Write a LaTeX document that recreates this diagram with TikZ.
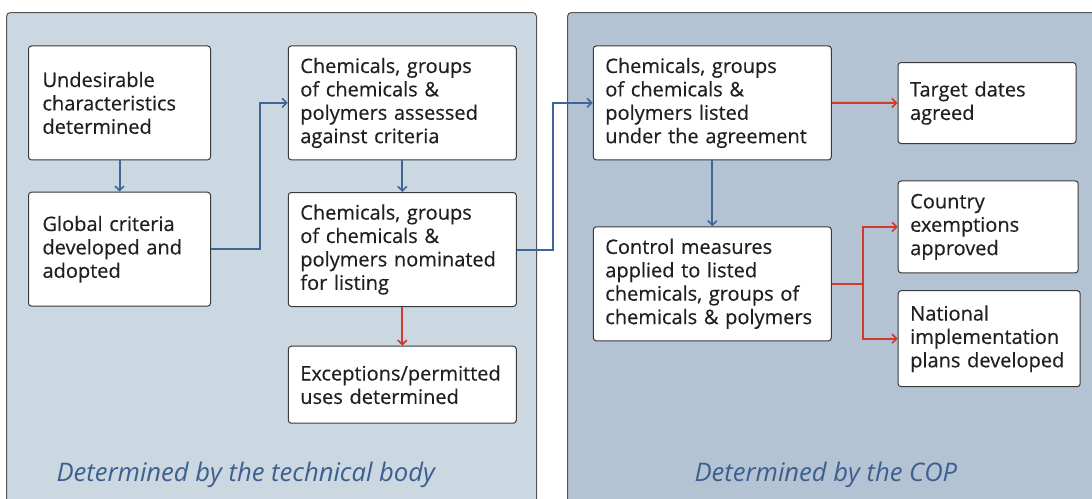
\documentclass[tikz,border=0pt]{standalone}
\usepackage{fontspec}
\setmainfont{Open Sans}
\newfontfamily\boxfont{Open Sans}[FakeBold=0.4]
\usetikzlibrary{arrows.meta}
\definecolor{leftpanel}{HTML}{CBD7E1}
\definecolor{rightpanel}{HTML}{B3C3D3}
\definecolor{panelborder}{HTML}{555555}
\definecolor{boxborder}{HTML}{3A3A3A}
\definecolor{txt}{HTML}{231F20}
\definecolor{bluearrow}{HTML}{3E6597}
\definecolor{redarrow}{HTML}{D0392B}
\definecolor{labelblue}{HTML}{3D5F8E}
\tikzset{
  panel/.style={draw=panelborder, line width=1pt, rounded corners=4pt},
  stepbox/.style={draw=boxborder, fill=white, line width=1pt, rounded corners=3pt,
    inner xsep=12pt, inner ysep=0pt, align=left, text=txt,
    font=\boxfont\fontsize{20}{23.4}\selectfont},
  bluelink/.style={draw=bluearrow, line width=2pt, -{Straight Barb[length=4.5pt,width=9pt,line width=1.6pt]}},
  redlink/.style={draw=redarrow, line width=2pt, -{Straight Barb[length=4.5pt,width=9pt,line width=1.6pt]}},
  paneltitle/.style={text=labelblue, font=\fontsize{25.6}{28}\selectfont\itshape, anchor=base west}
}
\begin{document}
\begin{tikzpicture}[x=1pt,y=-1pt]
\useasboundingbox (0,0) rectangle (1092,498);
\clip (0,0) rectangle (1092,498);
\fill[white] (0,0) rectangle (1092,498);
% panels
\draw[panel, fill=leftpanel] (6.5,12.5) rectangle (536.5,520);
\draw[panel, fill=rightpanel] (567.5,12.5) rectangle (1110,520);
% boxes
\node[stepbox, minimum width=182pt, minimum height=114pt, text width=154pt, inner xsep=14pt] (A) at (119.5,102.9)
  {Undesirable\\characteristics\\determined};
\node[stepbox, minimum width=182pt, minimum height=114pt, text width=154pt, inner xsep=14pt] (B) at (119.5,249.2)
  {Global criteria\\developed and\\adopted};
\node[stepbox, minimum width=228pt, minimum height=114pt, text width=204pt] (C) at (402.3,102.9)
  {Chemicals, groups\\of chemicals \&\\polymers assessed\\against criteria};
\node[stepbox, minimum width=228pt, minimum height=114pt, text width=204pt] (D) at (402.3,249.5)
  {Chemicals, groups\\of chemicals \&\\polymers nominated\\for listing};
\node[stepbox, minimum width=228pt, minimum height=77pt, text width=204pt] (E) at (402.3,384.7)
  {Exceptions/permitted\\uses determined};
\node[stepbox, minimum width=238pt, minimum height=114pt, text width=214pt] (F) at (712.3,102.9)
  {Chemicals, groups\\of chemicals \&\\polymers listed\\under the agreement};
\node[stepbox, minimum width=238pt, minimum height=114pt, text width=214pt] (G) at (712.3,283.8)
  {Control measures\\applied to listed\\chemicals, groups of\\chemicals \& polymers};
\node[stepbox, minimum width=178pt, minimum height=81pt, text width=154pt] (H) at (987,103)
  {Target dates\\agreed};
\node[stepbox, minimum width=180pt, minimum height=92pt, text width=156pt] (I) at (988.2,226.9)
  {Country\\exemptions\\approved};
\node[stepbox, minimum width=182pt, minimum height=96pt, text width=158pt] (J) at (989.2,338.7)
  {National\\implementation\\plans developed};
% connectors
\draw[bluelink] (A.south) -- (B.north);
\draw[bluelink] (B.east) -- ++(49,0) |- (C.west);
\draw[bluelink] (C.south) -- (D.north);
\draw[redlink] (D.south) -- (E.north);
\draw[bluelink] (D.east) -- ++(36,0) |- (F.west);
\draw[bluelink] (F.south) -- (G.north);
\draw[redlink] (F.east) -- (H.west);
\draw[redlink] (G.east) -- ++(31,0) |- (I.west);
\draw[redlink] (G.east) -- ++(31,0) |- (J.west);
% titles
\node[paneltitle] (T1) at (53,481) {Determined by the technical body};
\node[paneltitle] (T2) at (691,481) {Determined by the COP};
\end{tikzpicture}
\end{document}
